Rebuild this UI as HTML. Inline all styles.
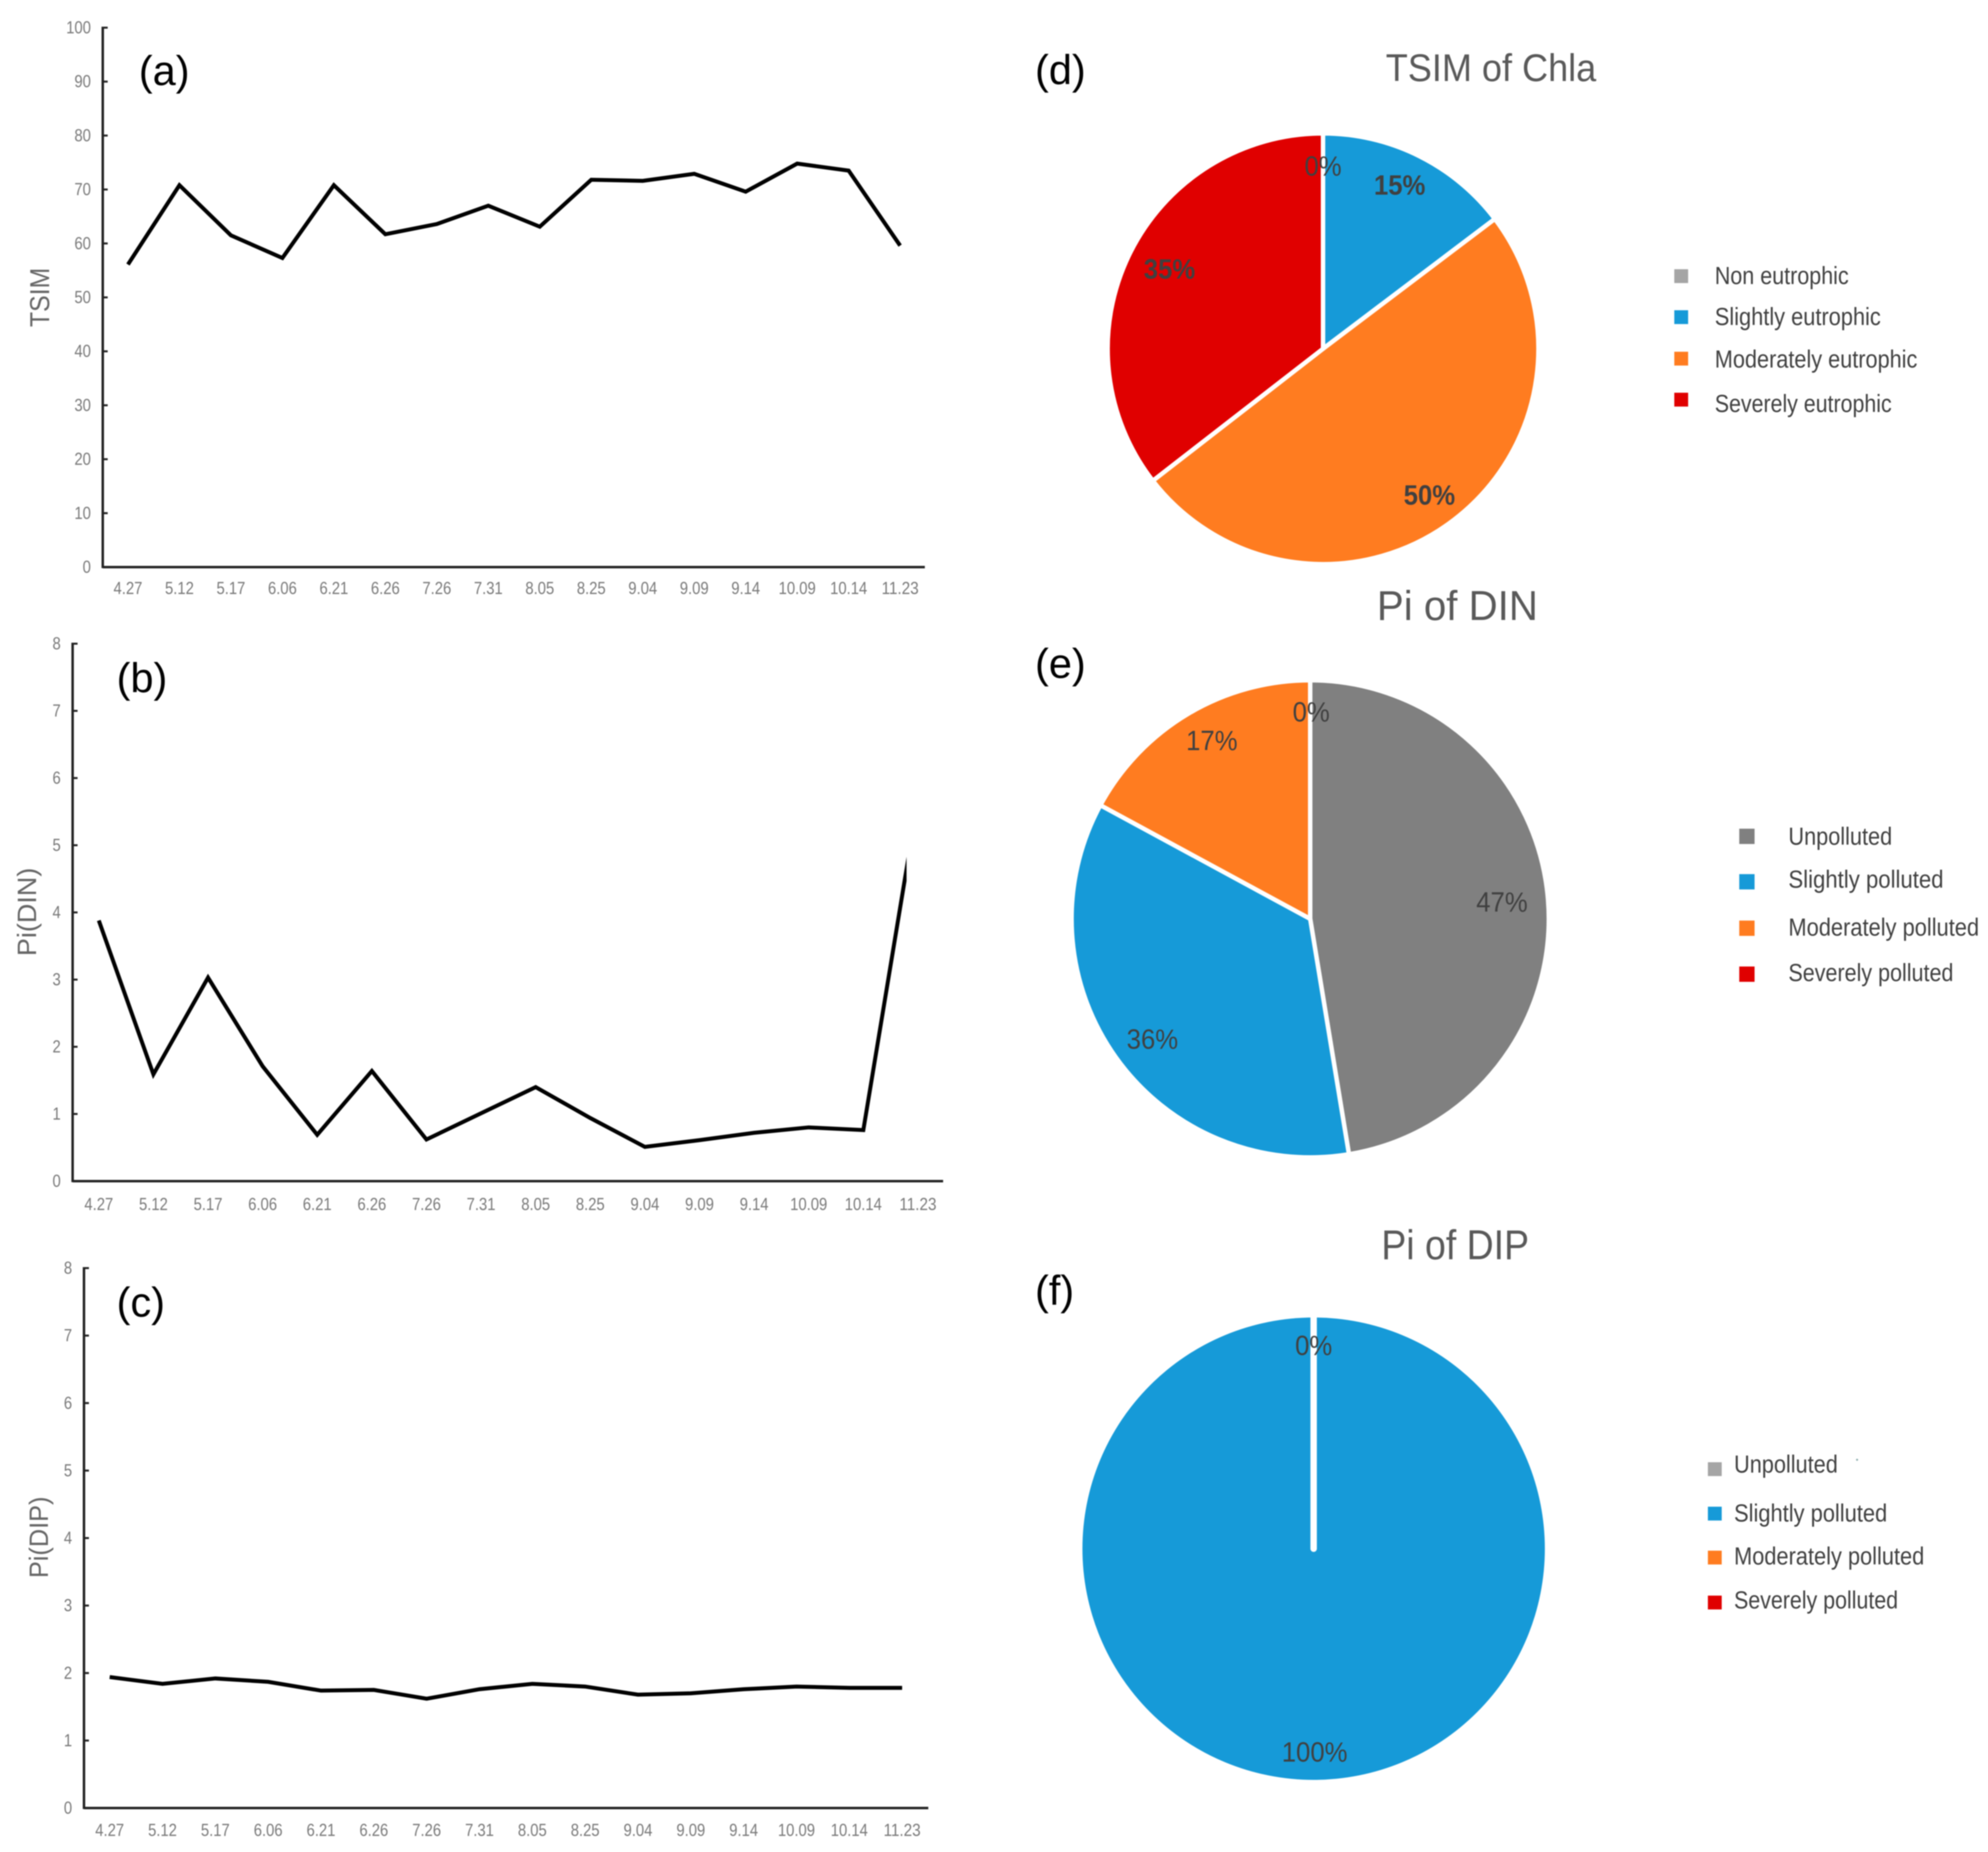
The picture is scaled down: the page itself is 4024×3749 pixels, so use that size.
<!DOCTYPE html>
<html lang="en">
<head>
<meta charset="utf-8">
<title>TSIM and Pi charts</title>
<style>
html,body{margin:0;padding:0;background:#fff;width:4024px;height:3749px;overflow:hidden}
svg{display:block;font-family:"Liberation Sans",sans-serif;filter:blur(1px)}
</style>
</head>
<body>
<svg id="figure" xmlns="http://www.w3.org/2000/svg" width="4024" height="3749" viewBox="0 0 4024 3749">
<rect x="0" y="0" width="4024" height="3749" fill="#ffffff"/>
<text x="281" y="143" font-size="84" dominant-baseline="central" fill="#000">(a)</text>
<text x="236" y="1372" font-size="84" dominant-baseline="central" fill="#000">(b)</text>
<text x="236" y="2636" font-size="84" dominant-baseline="central" fill="#000">(c)</text>
<text x="2095" y="141" font-size="84" dominant-baseline="central" fill="#000">(d)</text>
<text x="2095" y="1343" font-size="84" dominant-baseline="central" fill="#000">(e)</text>
<text x="2095" y="2612" font-size="84" dominant-baseline="central" fill="#000">(f)</text>
<text x="2805" y="137" font-size="78" textLength="426" lengthAdjust="spacingAndGlyphs" dominant-baseline="central" fill="#595959">TSIM of Chla</text>
<text x="2787" y="1226" font-size="84" textLength="326" lengthAdjust="spacingAndGlyphs" dominant-baseline="central" fill="#595959">Pi of DIN</text>
<text x="2796" y="2520" font-size="84" textLength="299" lengthAdjust="spacingAndGlyphs" dominant-baseline="central" fill="#595959">Pi of DIP</text>
<text transform="translate(80 602) rotate(-90)" text-anchor="middle" font-size="56" textLength="120" lengthAdjust="spacingAndGlyphs" dominant-baseline="central" fill="#666">TSIM</text>
<text transform="translate(55 1846) rotate(-90)" text-anchor="middle" font-size="54" textLength="179" lengthAdjust="spacingAndGlyphs" dominant-baseline="central" fill="#666">Pi(DIN)</text>
<text transform="translate(79 3112) rotate(-90)" text-anchor="middle" font-size="54" textLength="165" lengthAdjust="spacingAndGlyphs" dominant-baseline="central" fill="#666">Pi(DIP)</text>
<circle cx="3759" cy="2955" r="2" fill="#8aa"/>
</svg>
<script>
var categories = ['4.27','5.12','5.17','6.06','6.21','6.26','7.26','7.31','8.05','8.25','9.04','9.09','9.14','10.09','10.14','11.23'];
var tsimValues = [56.1,70.8,61.5,57.3,70.8,61.7,63.6,67.0,63.1,71.8,71.6,72.9,69.6,74.8,73.5,59.6];
var piDinValues = [3.88,1.59,3.03,1.71,0.69,1.64,0.62,1.01,1.40,0.94,0.51,0.61,0.72,0.80,0.76,5.67];
var piDipValues = [1.94,1.84,1.92,1.87,1.74,1.75,1.62,1.76,1.84,1.80,1.68,1.70,1.76,1.80,1.78,1.78];
var tsimTicks = [0,10,20,30,40,50,60,70,80,90,100];
var piTicks = [0,1,2,3,4,5,6,7,8];

var chlaShares = [0,14.7,49.8,35.5];
var chlaLabels = ['0%','15%','50%','35%'];
var chlaLegend = ['Non eutrophic','Slightly eutrophic','Moderately eutrophic','Severely eutrophic'];
var dinShares = [47.4,35.5,17.1,0];
var dinLabels = ['47%','36%','17%','0%'];
var dinLegend = ['Unpolluted','Slightly polluted','Moderately polluted','Severely polluted'];
var dipShares = [0,100,0,0];
var dipLabels = ['0%','100%','',''];
var dipLegend = ['Unpolluted','Slightly polluted','Moderately polluted','Severely polluted'];

var NS = 'http://www.w3.org/2000/svg';
var svg = document.getElementById('figure');

function make(tag, attrs, text) {
  var el = document.createElementNS(NS, tag);
  for (var k in attrs) el.setAttribute(k, attrs[k]);
  if (text !== undefined) el.textContent = text;
  svg.appendChild(el);
  return el;
}

function naturalEm(s) {
  var w = 0;
  for (var i = 0; i < s.length; i++) {
    var c = s.charAt(i);
    w += c === '.' ? 0.278 : (c === '%' ? 0.889 : 0.556);
  }
  return w;
}

function lineChart(id, cats, values, ticks, box) {
  var yMax = ticks[ticks.length - 1];
  function xPos(i) { return box.first + (box.last - box.first) * i / (cats.length - 1); }
  function yPos(v) { return box.y0 - (box.y0 - box.yTop) * v / yMax; }

  ticks.forEach(function (t) {
    var tick = make('line', {x1: box.axisX, x2: box.axisX + 10, y1: yPos(t), y2: yPos(t), stroke: '#222', 'stroke-width': 4});
    
    
    var lab = make('text', {x: box.axisX - 24, y: yPos(t), 'text-anchor': 'end', 'dominant-baseline': 'central', 'font-size': 35, fill: '#7a7a7a', textLength: (naturalEm(String(t)) * 30).toFixed(1), lengthAdjust: 'spacingAndGlyphs'}, String(t));
    
    
  });

  var yAxis = make('line', {x1: box.axisX, x2: box.axisX, y1: yPos(yMax) - 2, y2: box.y0 + 2, stroke: '#222', 'stroke-width': 5});
  
  
  var xAxis = make('line', {x1: box.axisX, x2: box.axisEnd, y1: box.y0, y2: box.y0, stroke: '#222', 'stroke-width': 5});
  
  

  cats.forEach(function (c, i) {
    var lab = make('text', {x: xPos(i), y: box.labelY, 'text-anchor': 'middle', 'dominant-baseline': 'central', 'font-size': 35, fill: '#7a7a7a', textLength: (naturalEm(c) * 30).toFixed(1), lengthAdjust: 'spacingAndGlyphs'}, c);
    
    
  });

  var clip = document.createElementNS(NS, 'clipPath');
  clip.setAttribute('id', id + '-clip');
  var clipRect = document.createElementNS(NS, 'rect');
  clipRect.setAttribute('x', 0);
  clipRect.setAttribute('y', 0);
  clipRect.setAttribute('width', box.clipRight);
  clipRect.setAttribute('height', 3749);
  clip.appendChild(clipRect);
  svg.appendChild(clip);

  var pts = values.map(function (v, i) { return xPos(i).toFixed(1) + ',' + yPos(v).toFixed(1); }).join(' ');
  var line = make('polyline', {points: pts, fill: 'none', stroke: '#000', 'stroke-width': 8, 'stroke-linejoin': 'miter', 'clip-path': 'url(#' + id + '-clip)'});
  
  
}

var sliceColors = ['#a5a5a5','#169ad8','#ff7c20','#e00000'];

function pieChart(id, shares, labels, legend, geo) {
  var total = shares.reduce(function (a, b) { return a + b; }, 0);
  var colors = sliceColors.slice();
  if (geo.firstColor) colors[0] = geo.firstColor;
  function point(frac, r) {
    var a = frac * 2 * Math.PI;
    return [geo.cx + r * Math.sin(a), geo.cy - r * Math.cos(a)];
  }
  var acc = 0;
  var labelSpots = [];
  shares.forEach(function (s, i) {
    var start = acc / total, end = (acc + s) / total;
    labelSpots.push((start + end) / 2);
    acc += s;
    if (s <= 0) return;
    var mark;
    if (s >= total) {
      mark = make('circle', {cx: geo.cx, cy: geo.cy, r: geo.r, fill: colors[i]});
    } else {
      var p0 = point(start, geo.r), p1 = point(end, geo.r);
      var large = (end - start) > 0.5 ? 1 : 0;
      mark = make('path', {d: 'M' + geo.cx + ' ' + geo.cy + 'L' + p0[0] + ' ' + p0[1] + 'A' + geo.r + ' ' + geo.r + ' 0 ' + large + ' 1 ' + p1[0] + ' ' + p1[1] + 'Z', fill: colors[i], stroke: '#fff', 'stroke-width': 9, 'stroke-linejoin': 'round'});
    }
    
    
    if (s >= total) {
      var sep = make('line', {x1: geo.cx, y1: geo.cy, x2: geo.cx, y2: geo.cy - geo.r - 2, stroke: '#fff', 'stroke-width': 13, 'stroke-linecap': 'round'});
      
      
    }
  });
  labels.forEach(function (t, i) {
    if (!t) return;
    var spot = point(labelSpots[i], geo.r * 0.85);
    var nudge = geo.nudge[i];
    var lab = make('text', {x: spot[0] + nudge[0], y: spot[1] + nudge[1], 'text-anchor': 'middle', 'dominant-baseline': 'central', 'font-size': 57, fill: '#404040', 'font-weight': (geo.boldLabels && t !== '0%') ? 'bold' : 'normal', textLength: (naturalEm(t) * 52).toFixed(1), lengthAdjust: 'spacingAndGlyphs'}, t);
    
    
  });
  legend.forEach(function (t, i) {
    var sw = make('rect', {x: geo.swatchX - geo.swatch / 2, y: geo.swatchY[i] - geo.swatch / 2, width: geo.swatch, height: geo.swatch, fill: colors[i]});
    
    
    var lab = make('text', {x: geo.textX, y: geo.textY[i], 'dominant-baseline': 'central', 'font-size': 50, fill: '#404040', textLength: geo.textW[i], lengthAdjust: 'spacingAndGlyphs'}, t);
    
    
  });
}

lineChart('tsim-chart', categories, tsimValues, tsimTicks, {axisX: 208, axisEnd: 1872, y0: 1148, yTop: 56, first: 259, last: 1822, labelY: 1191, clipRight: 1900});
lineChart('pi-din-chart', categories, piDinValues, piTicks, {axisX: 147, axisEnd: 1909, y0: 2391, yTop: 1303, first: 200, last: 1858, labelY: 2438, clipRight: 1835});
lineChart('pi-dip-chart', categories, piDipValues, piTicks, {axisX: 170, axisEnd: 1879, y0: 3660, yTop: 2567, first: 222, last: 1826, labelY: 3705, clipRight: 1900});

pieChart('chla-pie', chlaShares, chlaLabels, chlaLegend, {cx: 2678, cy: 706, r: 436, boldLabels: true,
  nudge: [[0,1],[-10,1],[-10,2],[22,2]],
  swatchX: 3403, swatch: 28, swatchY: [559,642,726,809], textX: 3471, textY: [558,641,727,817], textW: [271,336,410,358]});
pieChart('din-pie', dinShares, dinLabels, dinLegend, {cx: 2652, cy: 1860, r: 483, firstColor: '#808080',
  nudge: [[-21,0],[15,6],[11,-8],[2,-8]],
  swatchX: 3536, swatch: 31, swatchY: [1693,1785,1879,1972], textX: 3620, textY: [1693,1780,1877,1969], textW: [210,314,386,334]});
pieChart('dip-pie', dipShares, dipLabels, dipLegend, {cx: 2659, cy: 3135, r: 468,
  nudge: [[0,-13],[2,14],[0,0],[0,0]],
  swatchX: 3471, swatch: 28, swatchY: [2974,3064,3153,3244], textX: 3510, textY: [2964,3063,3150,3239], textW: [210,310,385,332]});
</script>
</body>
</html>
